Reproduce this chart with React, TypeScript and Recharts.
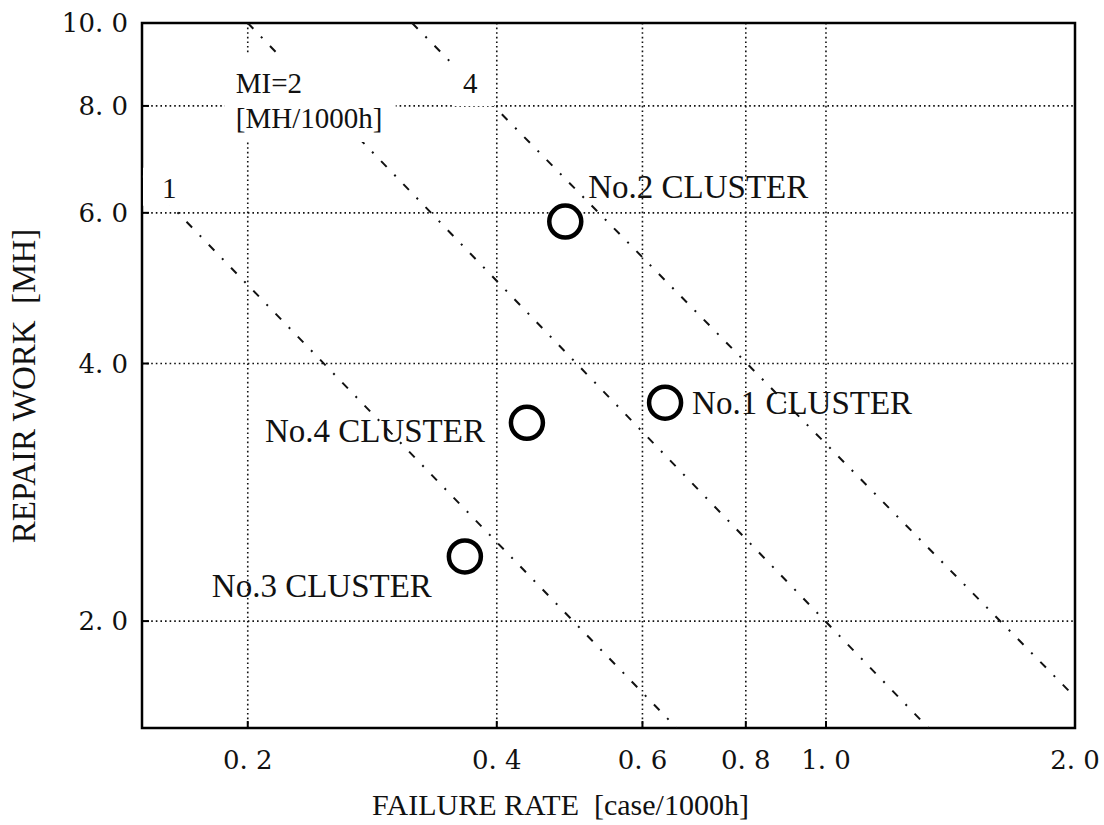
import React from "react";
import {
  ScatterChart,
  Scatter,
  XAxis,
  YAxis,
  CartesianGrid,
  ReferenceLine,
  ReferenceArea,
  Label,
} from "recharts";

// cluster points
const clusters = ["No.1 CLUSTER", "No.2 CLUSTER", "No.3 CLUSTER", "No.4 CLUSTER"];
const failureRate = [0.639, 0.484, 0.366, 0.435];
const repairWork = [3.6, 5.86, 2.38, 3.41];

// MI iso-lines, end points
const miNames = ["1", "2", "4"];
const miStartX = [0.149, 0.2, 0.316];
const miStartY = [6.63, 10, 10];
const miEndX = [0.66, 1.33, 2.0];
const miEndY = [1.5, 1.5, 1.63];
const miLabelLines = [["1"], ["MI=2", "[MH/1000h]"], ["4"]];

const xTicks = [0.2, 0.4, 0.6, 0.8, 1.0, 2.0];
const yTicks = [2, 4, 6, 8, 10];

const X_DOMAIN = [0.149, 2];
const Y_DOMAIN = [1.5, 10];

const clusterData = clusters.map((name, i) => ({
  name,
  x: failureRate[i],
  y: repairWork[i],
}));

const miLabelData = miNames.map((mi, i) => ({
  mi,
  x: miStartX[i],
  y: miStartY[i],
  lines: miLabelLines[i],
}));

const serif = "'Liberation Serif', 'Times New Roman', serif";
const tickFont = "'DejaVu Serif', serif";

const fmt = (v: number) => v.toFixed(1).replace(".", ".\u00a0");

// label placement relative to each point: [dx, dy, anchor]
const clusterLabelPos: Record<string, [number, number, "start" | "end"]> = {
  "No.1 CLUSTER": [27, 11, "start"],
  "No.2 CLUSTER": [23, -24, "start"],
  "No.3 CLUSTER": [-33, 41, "end"],
  "No.4 CLUSTER": [-42, 19, "end"],
};

// MI label boxes relative to line start: [boxX, boxY, boxW, boxH, textX, firstBaseline]
const miLabelBox: Record<string, number[]> = {
  "1": [1, -8, 34, 38, 20, 22],
  "2": [-23, 32, 171, 87, -12, 70],
  "4": [40, 41, 42, 42, 51, 70],
};

function XTick(props: any) {
  const { x, y, payload } = props;
  return (
    <g>
      <line x1={x} x2={x} y1={y} y2={y - 7} stroke="#000" strokeWidth={2} />
      <text x={x} y={y + 41} textAnchor="middle" fontFamily={tickFont} fontSize={26} fill="#111">
        {fmt(payload.value)}
      </text>
    </g>
  );
}

function YTick(props: any) {
  const { x, y, payload } = props;
  return (
    <g>
      <line x1={x} x2={x + 7} y1={y} y2={y} stroke="#000" strokeWidth={2} />
      <text x={x - 14} y={y + 9} textAnchor="end" fontFamily={tickFont} fontSize={26} fill="#111">
        {fmt(payload.value)}
      </text>
    </g>
  );
}

function ClusterShape(props: any) {
  const { cx, cy, payload } = props;
  const [dx, dy, anchor] = clusterLabelPos[payload.name];
  return (
    <g>
      <circle cx={cx} cy={cy} r={16} fill="#fff" stroke="#000" strokeWidth={4.5} />
      <text x={cx + dx} y={cy + dy} textAnchor={anchor} fontFamily={serif} fontSize={33} fill="#111">
        {payload.name}
      </text>
    </g>
  );
}

function MiLabelShape(props: any) {
  const { cx, cy, payload } = props;
  const [bx, by, bw, bh, tx, ty] = miLabelBox[payload.mi];
  return (
    <g>
      <rect x={cx + bx} y={cy + by} width={bw} height={bh} fill="#fff" />
      {payload.lines.map((t: string, i: number) => (
        <text key={t} x={cx + tx} y={cy + ty + i * 35} fontFamily={serif} fontSize={29} fill="#111">
          {t}
        </text>
      ))}
    </g>
  );
}

export default function App() {
  return (
    <div style={{ position: "absolute", left: 0, top: 0, width: 1104, height: 825, background: "#fff" }}>
      <ScatterChart width={1104} height={825} margin={{ top: 23, right: 29, bottom: 0, left: 0 }}>
        <CartesianGrid stroke="#111" strokeWidth={1.6} strokeDasharray="1.6 3" />
        <XAxis
          type="number"
          dataKey="x"
          scale="log"
          domain={X_DOMAIN}
          allowDataOverflow
          ticks={xTicks}
          interval={0}
          height={97}
          axisLine={false}
          tickLine={false}
          tickSize={0}
          tickMargin={0}
          tick={<XTick />}
        >
          <Label
            content={({ viewBox }: any) => (
              <text
                x={viewBox.x + viewBox.width / 2 - 48}
                y={viewBox.y + 87}
                textAnchor="middle"
                fontFamily={serif}
                fontSize={30}
                fill="#111"
              >
                {"FAILURE RATE\u00a0\u00a0[case/1000h]"}
              </text>
            )}
          />
        </XAxis>
        <YAxis
          type="number"
          dataKey="y"
          scale="log"
          domain={Y_DOMAIN}
          allowDataOverflow
          ticks={yTicks}
          interval={0}
          width={142}
          axisLine={false}
          tickLine={false}
          tickSize={0}
          tickMargin={0}
          tick={<YTick />}
        >
          <Label
            content={() => (
              <text
                x={35}
                y={386}
                transform="rotate(-90 35 386)"
                textAnchor="middle"
                fontFamily={serif}
                fontSize={33}
                fill="#111"
              >
                {"REPAIR WORK\u00a0\u00a0[MH]"}
              </text>
            )}
          />
        </YAxis>
        {miNames.map((mi, i) => (
          <ReferenceLine
            key={mi}
            segment={[
              { x: miStartX[i], y: miStartY[i] },
              { x: miEndX[i], y: miEndY[i] },
            ]}
            stroke="#111"
            strokeWidth={2}
            strokeDasharray="8 11 2 11"
            ifOverflow="hidden"
          />
        ))}
        <ReferenceArea
          x1={X_DOMAIN[0]}
          x2={X_DOMAIN[1]}
          y1={Y_DOMAIN[0]}
          y2={Y_DOMAIN[1]}
          fill="none"
          fillOpacity={0}
          stroke="#000"
          strokeWidth={2.5}
          ifOverflow="visible"
        />
        <Scatter data={miLabelData} shape={<MiLabelShape />} isAnimationActive={false} />
        <Scatter data={clusterData} shape={<ClusterShape />} isAnimationActive={false} />
      </ScatterChart>
    </div>
  );
}
